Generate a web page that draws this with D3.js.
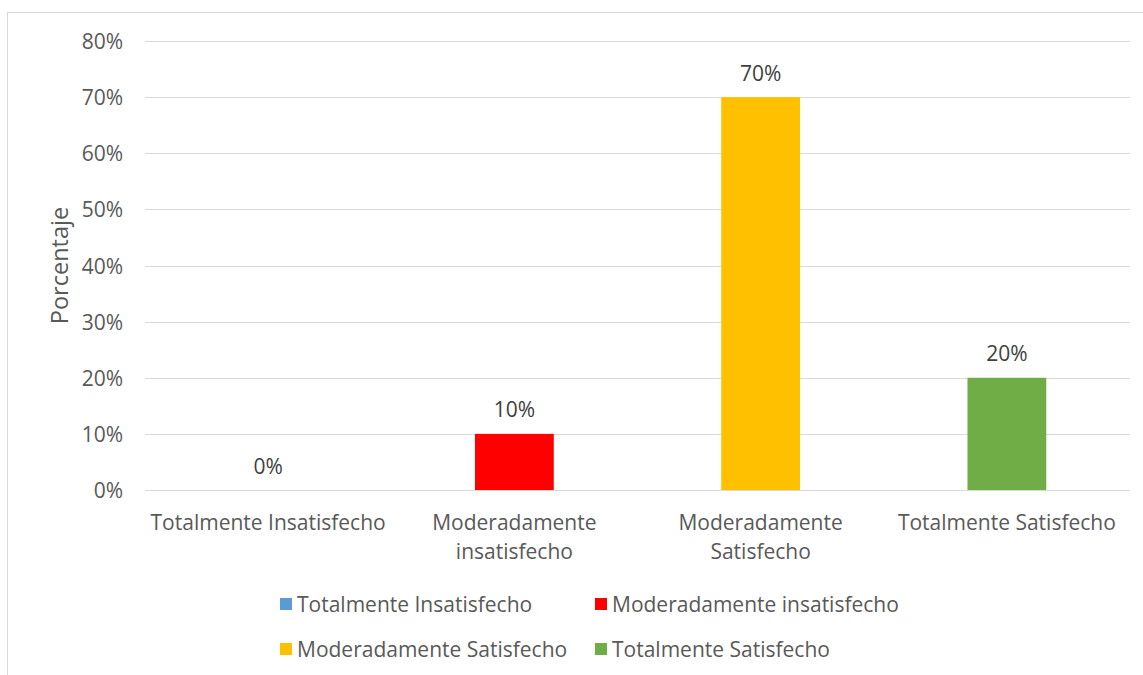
<!DOCTYPE html>
<html>
<head>
<meta charset="utf-8">
<script src="https://cdn.jsdelivr.net/npm/d3@7"></script>
<style>
  body { margin: 0; background: #fff; }
  text { font-family: "Open Sans", sans-serif; }
</style>
</head>
<body>
<script>
// data
let categories = ["Totalmente Insatisfecho", "Moderadamente insatisfecho", "Moderadamente Satisfecho", "Totalmente Satisfecho"];
let axisLabels = [["Totalmente Insatisfecho"], ["Moderadamente", "insatisfecho"], ["Moderadamente", "Satisfecho"], ["Totalmente Satisfecho"]];
let values = [0, 0.10, 0.70, 0.20];
let colors = ["#5B9BD5", "#FF0000", "#FFC000", "#70AD47"];
let yTicks = [0, 0.1, 0.2, 0.3, 0.4, 0.5, 0.6, 0.7, 0.8];

let width = 1143, height = 675;
let margin = { top: 41, right: 13, bottom: 185, left: 145 };
let fs = "21px";

let svg = d3.select("body").append("svg")
  .attr("width", width)
  .attr("height", height);

// chart area border (left and top visible)
svg.append("rect")
  .attr("x", 7.5).attr("y", 12.5)
  .attr("width", width + 20).attr("height", height + 20)
  .attr("fill", "#fff")
  .attr("stroke", "#d9d9d9");

let x = d3.scaleBand()
  .domain(categories)
  .range([margin.left, width - margin.right])
  .paddingInner(0.68)
  .paddingOuter(0.34);

let y = d3.scaleLinear()
  .domain([0, 0.8])
  .range([height - margin.bottom, margin.top]);

// gridlines
svg.append("g")
  .selectAll("line")
  .data(yTicks)
  .join("line")
  .attr("x1", margin.left)
  .attr("x2", width - margin.right)
  .attr("y1", d => Math.round(y(d)) + 0.5)
  .attr("y2", d => Math.round(y(d)) + 0.5)
  .attr("stroke", "#d9d9d9")
  .attr("stroke-width", 1);

// y axis labels
let yAxis = svg.append("g")
  .attr("transform", `translate(${margin.left - 22},0)`)
  .call(d3.axisLeft(y).tickValues(yTicks).tickFormat(d3.format(".0%")).tickSize(0).tickPadding(0));
yAxis.select(".domain").remove();
yAxis.selectAll("text")
  .attr("fill", "#595959")
  .attr("dy", "0.36em")
  .style("font-size", fs);

// y title
svg.append("text")
  .attr("transform", `translate(68,${(y(0) + y(0.8)) / 2}) rotate(-90)`)
  .attr("text-anchor", "middle")
  .attr("fill", "#595959")
  .style("font-size", "23.5px")
  .text("Porcentaje");

// bars
svg.append("g")
  .selectAll("rect")
  .data(values)
  .join("rect")
  .attr("x", (d, i) => x(categories[i]))
  .attr("width", x.bandwidth())
  .attr("y", d => y(d))
  .attr("height", d => y(0) - y(d))
  .attr("fill", (d, i) => colors[i]);

// data labels
svg.append("g")
  .selectAll("text")
  .data(values)
  .join("text")
  .attr("x", (d, i) => x(categories[i]) + x.bandwidth() / 2)
  .attr("y", d => y(d) - 16.5)
  .attr("text-anchor", "middle")
  .attr("fill", "#404040")
  .style("font-size", fs)
  .text(d => d3.format(".0%")(d));

// x axis labels
let xl = svg.append("g")
  .selectAll("text")
  .data(axisLabels)
  .join("text")
  .attr("x", (d, i) => x(categories[i]) + x.bandwidth() / 2)
  .attr("y", y(0) + 39.5)
  .attr("text-anchor", "middle")
  .attr("fill", "#595959")
  .style("font-size", fs);
xl.selectAll("tspan")
  .data(d => d)
  .join("tspan")
  .attr("x", function() { return d3.select(this.parentNode).attr("x"); })
  .attr("dy", (d, i) => i === 0 ? 0 : 29.5)
  .text(d => d);

// legend
let legendPos = [[280, 604], [595, 604], [280, 649], [595, 649]];
let legend = svg.append("g")
  .selectAll("g")
  .data(categories)
  .join("g")
  .attr("transform", (d, i) => `translate(${legendPos[i][0]},${legendPos[i][1]})`);
legend.append("rect")
  .attr("x", 0).attr("y", -6)
  .attr("width", 12).attr("height", 12)
  .attr("fill", (d, i) => colors[i]);
legend.append("text")
  .attr("x", 17)
  .attr("dy", "0.36em")
  .attr("fill", "#595959")
  .style("font-size", fs)
  .text(d => d);
</script>
</body>
</html>
